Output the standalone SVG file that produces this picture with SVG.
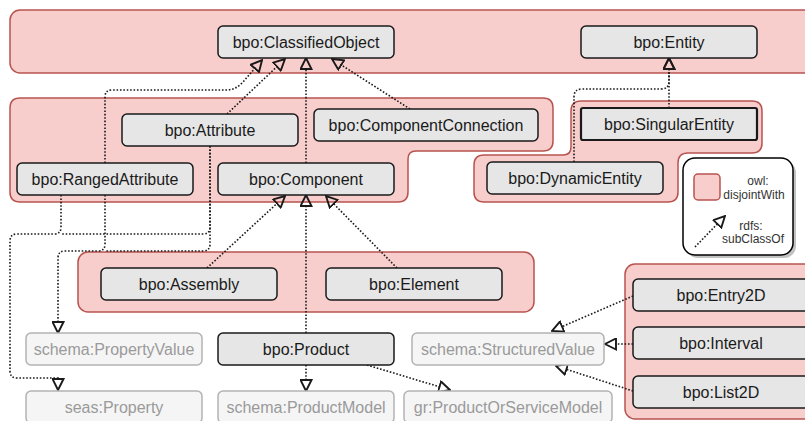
<svg xmlns="http://www.w3.org/2000/svg" width="805" height="421" viewBox="0 0 805 421">
<style>
.grp{fill:#f8cecc;stroke:#b85450;stroke-width:1.5}
.nd rect{fill:#e6e6e6;stroke:#1a1a1a;stroke-width:1.5}
.lt rect{fill:#f5f5f5;stroke:#b3b3b3;stroke-width:1.5}
text{font-family:"Liberation Sans",Arial,sans-serif;font-size:16px;text-anchor:middle}
.nd text{fill:#1a1a1a}
.lt text{fill:#9a9a9a}
.edge path{fill:none;stroke:#1a1a1a;stroke-width:1.6;stroke-dasharray:1.6 1.8;marker-end:url(#tri)}
.edge path.nm{marker-end:none}
.leg{font-size:12px;fill:#333}
</style>
<defs>
<marker id="tri" viewBox="0 0 13 13" refX="2" refY="6.5" markerWidth="13" markerHeight="13" markerUnits="userSpaceOnUse" orient="auto">
<path d="M1,1 L12,6.5 L1,12 Z" fill="none" stroke="#1a1a1a" stroke-width="1.9" stroke-dasharray="none" stroke-linejoin="miter"/>
</marker>
</defs>

<g id="groups">
<rect class="grp" x="10" y="10" width="810" height="63" rx="10"/>
<path class="grp" d="M20,98 H543 Q553,98 553,108 V141 Q553,151 543,151 H416 Q408,151 408,159 V192 Q408,202 398,202 H20 Q10,202 10,192 V108 Q10,98 20,98 Z"/>
<path class="grp" d="M581,101 H752 Q762,101 762,111 V143 Q762,153 752,153 H688 Q678,153 678,163 V192 Q678,202 668,202 H484 Q474,202 474,192 V165 Q474,155 484,155 H563 Q571,155 571,147 V111 Q571,101 581,101 Z"/>
<rect class="grp" x="78" y="252" width="456" height="60" rx="10"/>
<rect class="grp" x="625" y="264" width="200" height="155" rx="10"/>
</g>

<g id="connectors" class="edge">
<path d="M306,163 V68"/>
<path d="M227,114 L277.7,65.9"/>
<path d="M105,163 V97 Q105,90 112,90 H226 Q236,90 243,82 L255.5,67.6"/>
<path d="M410,109 L340.4,64.4"/>
<path d="M669,108 V68"/>
<path d="M574,162 V97 Q574,89 582,89 H661 Q669,89 669,81 V68"/>
<path d="M207,268 L277.7,202.8"/>
<path d="M306,333 V205"/>
<path d="M397,268 L333,203.1"/>
<path d="M306,365 V381"/>
<path d="M367,365 L440.4,387.1"/>
<path d="M633,296 L561.2,327"/>
<path d="M633,344 H615"/>
<path d="M633,391 L565.5,369"/>
<path d="M61,195 V227 Q61,234 54,234 H17 Q10,234 10,241 V371 Q10,378 17,378 H58 V380"/>
<path class="nm" d="M210,146 V227 Q210,234 203,234 H61"/>
<path d="M105,195 V244 Q105,251 98,251 H65 Q58,251 58,258 V323"/>
<path class="nm" d="M210,146 V244 Q210,251 203,251 H105"/>
</g>

<g id="n-classifiedobject" class="nd"><rect x="218" y="26" width="176" height="32" rx="5"/><text x="306" y="47.5">bpo:ClassifiedObject</text></g>
<g id="n-entity" class="nd"><rect x="581" y="26" width="176" height="32" rx="5"/><text x="669" y="47.5">bpo:Entity</text></g>
<g id="n-attribute" class="nd"><rect x="122" y="114" width="176" height="32" rx="5"/><text x="210" y="135.5">bpo:Attribute</text></g>
<g id="n-componentconnection" class="nd"><rect x="314" y="109" width="224" height="32" rx="5"/><text x="426" y="130.5">bpo:ComponentConnection</text></g>
<g id="n-rangedattribute" class="nd"><rect x="17" y="163" width="176" height="32" rx="5"/><text x="105" y="184.5">bpo:RangedAttribute</text></g>
<g id="n-component" class="nd"><rect x="218" y="163" width="176" height="32" rx="5"/><text x="306" y="184.5">bpo:Component</text></g>
<g id="n-singularentity" class="nd"><rect x="581" y="108" width="176" height="32" rx="2" style="stroke-width:2.2"/><text x="669" y="129.5">bpo:SingularEntity</text></g>
<g id="n-dynamicentity" class="nd"><rect x="487" y="162" width="176" height="32" rx="5"/><text x="575" y="183.5">bpo:DynamicEntity</text></g>
<g id="n-assembly" class="nd"><rect x="101" y="268" width="176" height="32" rx="5"/><text x="189" y="289.5">bpo:Assembly</text></g>
<g id="n-element" class="nd"><rect x="326" y="268" width="176" height="32" rx="5"/><text x="414" y="289.5">bpo:Element</text></g>
<g id="n-propertyvalue" class="lt"><rect x="26" y="333" width="176" height="32" rx="5"/><text x="114" y="354.5">schema:PropertyValue</text></g>
<g id="n-product" class="nd"><rect x="218" y="333" width="176" height="32" rx="5"/><text x="306" y="354.5">bpo:Product</text></g>
<g id="n-structuredvalue" class="lt"><rect x="412" y="333" width="192" height="32" rx="5"/><text x="508" y="354.5">schema:StructuredValue</text></g>
<g id="n-entry2d" class="nd"><rect x="633" y="279" width="176" height="32" rx="5"/><text x="721" y="300.5">bpo:Entry2D</text></g>
<g id="n-interval" class="nd"><rect x="633" y="327" width="176" height="32" rx="5"/><text x="721" y="348.5">bpo:Interval</text></g>
<g id="n-list2d" class="nd"><rect x="633" y="376" width="176" height="32" rx="5"/><text x="721" y="397.5">bpo:List2D</text></g>
<g id="n-seasproperty" class="lt"><rect x="26" y="391" width="176" height="32" rx="5"/><text x="114" y="412.5">seas:Property</text></g>
<g id="n-productmodel" class="lt"><rect x="218" y="391" width="176" height="32" rx="5"/><text x="306" y="412.5">schema:ProductModel</text></g>
<g id="n-productorservicemodel" class="lt"><rect x="404" y="391" width="208" height="32" rx="5"/><text x="508" y="412.5">gr:ProductOrServiceModel</text></g>

<g id="legend">
<rect x="686" y="161" width="110" height="97" rx="12" fill="#999" opacity="0.6"/>
<rect x="683" y="158" width="110" height="97" rx="12" fill="#fff" stroke="#000" stroke-width="1.5"/>
<rect x="694" y="174" width="26" height="26" rx="4" class="grp"/>
<text class="leg" x="758" y="185">owl:</text>
<text class="leg" x="754" y="198.5">disjointWith</text>
<g class="edge"><path d="M695,247 L718,223.2"/></g>
<text class="leg" x="751" y="229.5">rdfs:</text>
<text class="leg" x="753" y="243">subClassOf</text>
</g>
</svg>
